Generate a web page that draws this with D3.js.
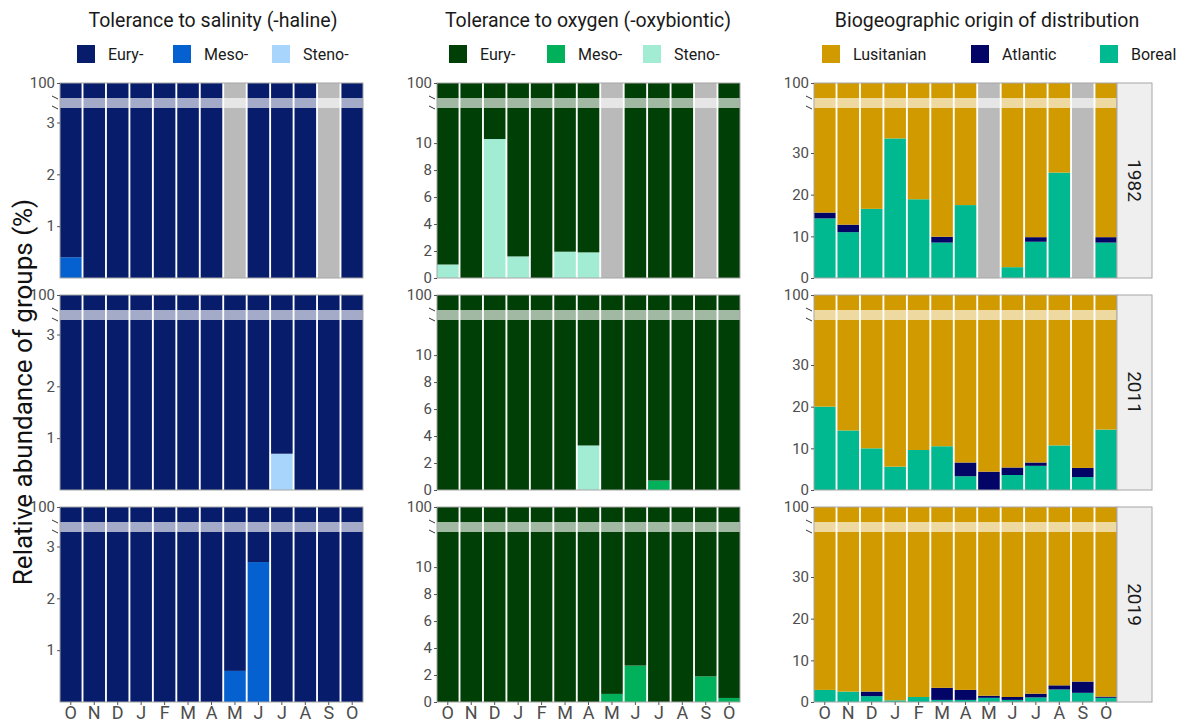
<!DOCTYPE html>
<html>
<head>
<meta charset="utf-8">
<script src="https://cdn.jsdelivr.net/npm/d3@7"></script>
<style>
  body { margin: 0; background: #fff; }
  text { font-family: Roboto, "Open Sans", sans-serif; }
</style>
</head>
<body>
<div id="chart"></div>
<script>
// ---- data (% of total) ----
const months = ["O", "N", "D", "J", "F", "M", "A", "M", "J", "J", "A", "S", "O"];
const years = ["1982", "2011", "2019"];

// null = month not sampled (grey bar)
const salMeso = [
  [0.4, 0, 0, 0, 0, 0, 0, null, 0, 0, 0, null, 0],
  [0, 0, 0, 0, 0, 0, 0, 0, 0, 0, 0, 0, 0],
  [0, 0, 0, 0, 0, 0, 0, 0.6, 2.7, 0, 0, 0, 0]
];
const salSteno = [
  [0, 0, 0, 0, 0, 0, 0, null, 0, 0, 0, null, 0],
  [0, 0, 0, 0, 0, 0, 0, 0, 0, 0.7, 0, 0, 0],
  [0, 0, 0, 0, 0, 0, 0, 0, 0, 0, 0, 0, 0]
];
const oxyMeso = [
  [0, 0, 0, 0, 0, 0, 0, null, 0, 0, 0, null, 0],
  [0, 0, 0, 0, 0, 0, 0, 0, 0, 0.7, 0, 0, 0],
  [0, 0, 0, 0, 0, 0, 0, 0.6, 2.7, 0, 0, 1.9, 0.3]
];
const oxySteno = [
  [1.0, 0, 10.3, 1.6, 0, 1.95, 1.9, null, 0, 0, 0, null, 0],
  [0, 0, 0, 0, 0, 0, 3.3, 0, 0, 0, 0, 0, 0],
  [0, 0, 0, 0, 0, 0, 0, 0, 0, 0, 0, 0, 0]
];
const bioBoreal = [
  [14.3, 11.0, 16.6, 33.5, 18.9, 8.5, 17.5, null, 2.6, 8.7, 25.3, null, 8.5],
  [20.0, 14.3, 10.0, 5.6, 9.6, 10.5, 3.3, 0, 3.6, 5.8, 10.7, 3.1, 14.5],
  [2.9, 2.5, 1.4, 0.4, 1.2, 0.5, 0.5, 1.0, 0.5, 1.1, 3.0, 2.2, 1.0]
];
const bioAtlantic = [
  [1.4, 1.8, 0, 0, 0, 1.4, 0, null, 0, 1.1, 0, null, 1.3],
  [0, 0, 0, 0, 0, 0, 3.3, 4.4, 1.8, 0.8, 0, 2.2, 0],
  [0, 0, 1.1, 0, 0, 2.9, 2.4, 0.5, 0.7, 0.9, 1.0, 2.7, 0.3]
];

// ---- layout ----
const W = 1180, H = 725;
const panelW = 303, panelH = 195;
const colX = [60, 437, 814];
const rowY = [83, 295, 507];
const topSeg = 15, bandH = 10; // broken axis: 100 on top, band, then the zoomed part

// remaining share goes to the "Eury-" / "Lusitanian" group
function rest(a, b) {
  return a.map((row, r) => row.map((v, i) => v === null ? null : 100 - v - b[r][i]));
}

const panels = [
  {
    title: "Tolerance to salinity (-haline)",
    labels: ["Eury-", "Meso-", "Steno-"],
    colors: ["#071d6b", "#0561cf", "#a8d5fb"],
    series: [rest(salMeso, salSteno), salMeso, salSteno],
    stackOrder: [2, 1, 0], // bottom -> top
    lowMax: 3.28,
    ticks: [1, 2, 3, 100],
    legendX: [17, 113, 212],
    center: 213
  },
  {
    title: "Tolerance to oxygen (-oxybiontic)",
    labels: ["Eury-", "Meso-", "Steno-"],
    colors: ["#003f05", "#00b05a", "#a2ecd3"],
    series: [rest(oxyMeso, oxySteno), oxyMeso, oxySteno],
    stackOrder: [2, 1, 0],
    lowMax: 12.6,
    ticks: [0, 2, 4, 6, 8, 10, 100],
    legendX: [12, 110, 206],
    center: 588
  },
  {
    title: "Biogeographic origin of distribution",
    labels: ["Lusitanian", "Atlantic", "Boreal"],
    colors: ["#d19b00", "#020566", "#00b990"],
    series: [rest(bioBoreal, bioAtlantic), bioAtlantic, bioBoreal],
    stackOrder: [2, 1, 0],
    lowMax: 40.8,
    ticks: [0, 10, 20, 30, 100],
    legendX: [8, 157, 286],
    center: 987
  }
];

let svg = d3.select('#chart')
  .append('svg')
  .attr('width', W)
  .attr('height', H)
  .style('background-color', '#fff');

panels.forEach((p, c) => {
  let px = colX[c];

  // title
  svg.append('text')
    .attr('x', p.center)
    .attr('y', 27)
    .attr('text-anchor', 'middle')
    .attr('font-size', 19.5)
    .style('fill', '#1a1a1a')
    .text(p.title);

  // legend
  let legend = svg.selectAll('.legend' + c)
    .data(p.labels)
    .enter().append('g')
    .attr('transform', (d, i) => `translate(${px + p.legendX[i]},45)`);

  legend.append('rect')
    .attr('width', 18)
    .attr('height', 18)
    .style('fill', (d, i) => p.colors[i]);

  legend.append('text')
    .attr('x', 31)
    .attr('y', 15)
    .attr('font-size', 16)
    .style('fill', '#1a1a1a')
    .text(d => d);

  let xScale = d3.scaleBand()
    .domain(d3.range(months.length))
    .range([px, px + panelW])
    .paddingInner(0.08)
    .paddingOuter(0);

  years.forEach((yr, r) => {
    let py = rowY[r];
    let yScale = d3.scaleLinear()
      .domain([0, p.lowMax, 95, 100])
      .range([py + panelH, py + topSeg + bandH, py + topSeg, py]);

    let g = svg.append('g');

    months.forEach((m, i) => {
      if (p.series[0][r][i] === null) {
        // not sampled
        g.append('rect')
          .attr('x', xScale(i))
          .attr('y', yScale(100))
          .attr('width', xScale.bandwidth())
          .attr('height', yScale(0) - yScale(100))
          .attr('fill', '#bababa');
        return;
      }
      let base = 0;
      p.stackOrder.forEach(s => {
        let v = p.series[s][r][i];
        if (v > 0) {
          g.append('rect')
            .attr('x', xScale(i))
            .attr('y', yScale(base + v))
            .attr('width', xScale.bandwidth())
            .attr('height', yScale(base) - yScale(base + v))
            .attr('fill', p.colors[s]);
        }
        base += v;
      });
    });

    // light band marking the axis break
    g.append('rect')
      .attr('x', px)
      .attr('y', py + topSeg)
      .attr('width', panelW)
      .attr('height', bandH)
      .attr('fill', '#fff')
      .attr('opacity', 0.63);

    // panel frame
    g.append('rect')
      .attr('x', px)
      .attr('y', py)
      .attr('width', panelW)
      .attr('height', panelH)
      .attr('fill', 'none')
      .attr('stroke', '#a6a6a6')
      .attr('stroke-width', 1);

    // y axis
    let yAxis = svg.append('g')
      .attr('transform', `translate(${px},0)`)
      .call(d3.axisLeft(yScale).tickValues(p.ticks).tickFormat(d3.format('d')).tickSize(3).tickPadding(2));
    yAxis.select('.domain').remove();
    yAxis.selectAll('line').attr('stroke', '#555');
    yAxis.selectAll('text')
      .attr('font-size', 15)
      .style('font-family', 'Roboto, sans-serif')
      .style('fill', '#4d4d4d');

    // break marks on the axis
    [py + topSeg, py + topSeg + bandH].forEach(yb => {
      svg.append('line')
        .attr('x1', px - 8).attr('y1', yb - 2)
        .attr('x2', px - 2).attr('y2', yb + 1)
        .attr('stroke', '#333')
        .attr('stroke-width', 1);
    });

    // x axis only on the bottom row
    if (r === years.length - 1) {
      let xAxis = svg.append('g')
        .attr('transform', `translate(0,${py + panelH})`)
        .call(d3.axisBottom(xScale).tickFormat(i => months[i]).tickSize(3).tickPadding(2));
      xAxis.select('.domain').remove();
      xAxis.selectAll('line').attr('stroke', '#555');
      xAxis.selectAll('text')
        .attr('font-size', 18)
        .attr('dy', '0.68em')
        .style('font-family', 'Roboto, sans-serif')
        .style('fill', '#4d4d4d');
    }

    // year strip on the right
    if (c === panels.length - 1) {
      svg.append('rect')
        .attr('x', px + panelW)
        .attr('y', py)
        .attr('width', 35)
        .attr('height', panelH)
        .attr('fill', '#efefef')
        .attr('stroke', '#a6a6a6');
      svg.append('text')
        .attr('transform', `translate(${px + panelW + 17.5},${py + panelH / 2}) rotate(90)`)
        .attr('text-anchor', 'middle')
        .attr('dy', '0.35em')
        .attr('font-size', 19)
        .style('fill', '#1a1a1a')
        .text(yr);
    }
  });
});

// shared y label
svg.append('text')
  .attr('transform', 'translate(32,392) rotate(-90)')
  .attr('text-anchor', 'middle')
  .attr('font-size', 26)
  .style('fill', '#111')
  .text('Relative abundance of groups (%)');
</script>
</body>
</html>
